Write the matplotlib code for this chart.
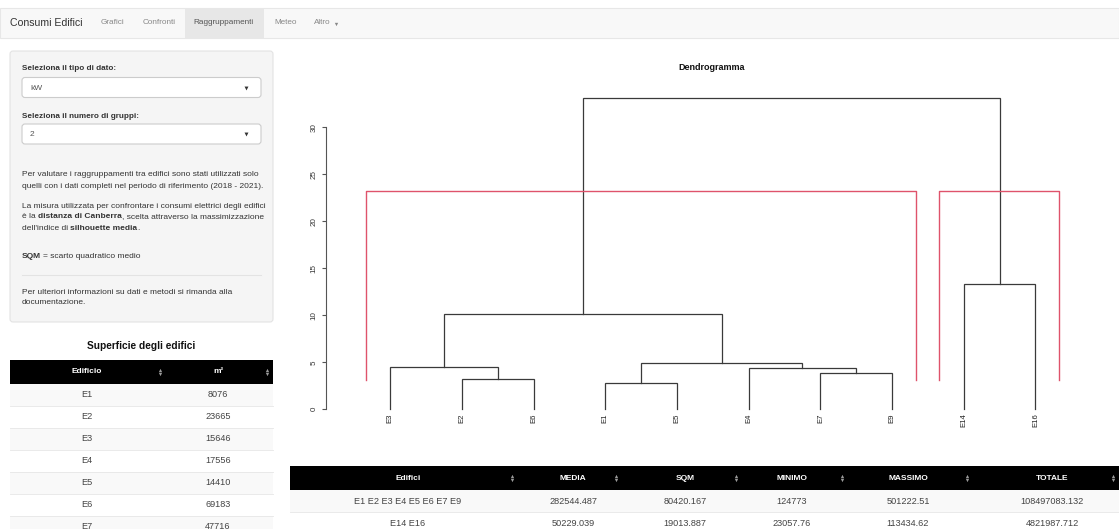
# Dashboard "Consumi Edifici" - tab Raggruppamenti, dendrogramma + tabelle
import numpy as np
import matplotlib.pyplot as plt
from matplotlib.patches import Rectangle, FancyBboxPatch

plt.rcParams['font.family'] = ['Liberation Sans', 'DejaVu Sans']

# ---- data ----
nav_items = ["Grafici", "Confronti", "Raggruppamenti", "Meteo", "Altro"]
leaves = ["E3", "E2", "E6", "E1", "E5", "E4", "E7", "E9", "E14", "E16"]
# merge table, hclust style: leaf names or index of an earlier merge
merges = [("E2", "E6"), ("E1", "E5"), ("E7", "E9"), ("E4", 2), ("E3", 0),
          (1, 3), (4, 5), ("E14", "E16"), (6, 7)]
heights = [3.22, 2.83, 3.86, 4.36, 4.53, 4.93, 10.17, 13.3, 33.15]
groups = [["E3", "E2", "E6", "E1", "E5", "E4", "E7", "E9"], ["E14", "E16"]]
rect_top = 23.2
rect_bottom = 3.1

area_edifici = ["E1", "E2", "E3", "E4", "E5", "E6", "E7"]
area_m2 = [8076, 23665, 15646, 17556, 14410, 69183, 47716]

stat_cols = ["Edifici", "MEDIA", "SQM", "MINIMO", "MASSIMO", "TOTALE"]
stat_groups = ["E1 E2 E3 E4 E5 E6 E7 E9", "E14 E16"]
media = ["282544.487", "50229.039"]
sqm = ["80420.167", "19013.887"]
minimo = ["124773", "23057.76"]
massimo = ["501222.51", "113434.62"]
totale = ["108497083.132", "4821987.712"]

# ---- figure ----
fig = plt.figure(figsize=(11.19, 5.29), dpi=100)
ui = fig.add_axes([0, 0, 1, 1])
ui.set_xlim(0, 1119)
ui.set_ylim(529, 0)
ui.axis('off')
r = fig.canvas.get_renderer()
TXT = '#333333'


def text_w(s, size, weight):
    t = ui.text(0, 0, s, fontsize=size, fontweight=weight)
    w = t.get_window_extent(renderer=r).width
    t.remove()
    return w


def runs(x, y, parts, size):
    # mixed normal / bold text on one line
    for txt, bold in parts:
        wt = 'bold' if bold else 'normal'
        sp = text_w("a a", size, wt) - text_w("aa", size, wt)
        if txt.startswith(" "):
            x += sp
        core = txt.strip()
        t = ui.text(x, y, core, fontsize=size, color=TXT, va='center', ha='left', fontweight=wt)
        x += t.get_window_extent(renderer=r).width
        if txt.endswith(" "):
            x += sp


def sort_icon(x, y):
    ui.plot([x], [y - 2], marker='^', ms=2.4, color='#9a9a9a', mew=0)
    ui.plot([x], [y + 2], marker='v', ms=2.4, color='#9a9a9a', mew=0)


# navbar
ui.add_patch(Rectangle((0, 8), 1119, 30, fc='#f8f8f8', ec='#e7e7e7', lw=0.8))
ui.add_patch(Rectangle((185, 8.5), 79, 29, fc='#e7e7e7', ec='none'))
ui.text(10, 23, "Consumi Edifici", fontsize=7.6, color='#333', va='center')
nav_x = [101, 143, 193, 274, 314]
for name, x in zip(nav_items, nav_x):
    ui.text(x, 23, name, fontsize=5.9, va='center',
            color='#555' if name == "Raggruppamenti" else '#888')
ui.plot([336], [23.5], marker='v', ms=2.4, color='#888', mew=0)

# sidebar
ui.add_patch(FancyBboxPatch((10, 51), 263, 271, boxstyle='round,pad=0,rounding_size=3',
                            fc='#f5f5f5', ec='#e3e3e3', lw=0.8))
lab_fs = 5.9
ui.text(22, 69, "Seleziona il tipo di dato:", fontsize=lab_fs, fontweight='bold', color=TXT, va='center')
ui.add_patch(FancyBboxPatch((22, 77.5), 239, 20, boxstyle='round,pad=0,rounding_size=3',
                            fc='white', ec='#cccccc', lw=0.8))
ui.text(30, 88, "kW", fontsize=6.0, color='#555', va='center')
ui.plot([246], [88], marker='v', ms=2.8, color='#333', mew=0)
ui.text(22, 116, "Seleziona il numero di gruppi:", fontsize=lab_fs, fontweight='bold', color=TXT, va='center')
ui.add_patch(FancyBboxPatch((22, 124), 239, 20, boxstyle='round,pad=0,rounding_size=3',
                            fc='white', ec='#cccccc', lw=0.8))
ui.text(30, 134, "2", fontsize=6.0, color='#555', va='center')
ui.plot([246], [134], marker='v', ms=2.8, color='#333', mew=0)

fs = 6.0
runs(22, 175, [("Per valutare i raggruppamenti tra edifici sono stati utilizzati solo", False)], fs)
runs(22, 186, [("quelli con i dati completi nel periodo di riferimento (2018 - 2021).", False)], fs)
runs(22, 206, [("La misura utilizzata per confrontare i consumi elettrici degli edifici", False)], fs)
runs(22, 217, [("è la ", False), ("distanza di Canberra", True),
               (", scelta attraverso la massimizzazione", False)], fs)
runs(22, 228, [("dell'indice di ", False), ("silhouette media", True), (".", False)], fs)
runs(22, 257, [("SQM", True), (" = scarto quadratico medio", False)], fs)
ui.plot([22, 261], [275, 275], color='#e3e3e3', lw=0.8)
runs(22, 292, [("Per ulteriori informazioni su dati e metodi si rimanda alla", False)], fs)
runs(22, 303, [("documentazione.", False)], fs)

# tabella superfici
cell_fs = 6.6
head_fs = 6.0
ui.text(141, 346, "Superficie degli edifici", fontsize=7.3, fontweight='bold',
        color='#111', ha='center', va='center')
ui.add_patch(Rectangle((10, 359.5), 263, 24, fc='black', ec='none'))
ui.text(87, 371.5, "Edificio", fontsize=head_fs, fontweight='bold', color='white', ha='center', va='center')
ui.text(218, 371.5, "m²", fontsize=head_fs, fontweight='bold', color='white', ha='center', va='center')
sort_icon(160, 371.5)
sort_icon(266.5, 371.5)
row_h = 22
for i, (ed, val) in enumerate(zip(area_edifici, area_m2)):
    y0 = 383.5 + i * row_h
    if i % 2 == 0:
        ui.add_patch(Rectangle((10, y0), 263, row_h, fc='#f9f9f9', ec='none'))
    ui.plot([10, 273], [y0 + row_h, y0 + row_h], color='#e6e6e6', lw=0.6)
    ui.text(87, y0 + row_h / 2, ed, fontsize=cell_fs, color='#444', ha='center', va='center')
    ui.text(218, y0 + row_h / 2, str(val), fontsize=cell_fs, color='#444', ha='center', va='center')

# tabella statistiche gruppi
ui.add_patch(Rectangle((290, 466), 829, 24, fc='black', ec='none'))
col_cx = [408, 573, 685, 792, 908, 1052]
icon_x = [512, 616, 736, 842, 967, 1113]
for name, cx, ix in zip(stat_cols, col_cx, icon_x):
    ui.text(cx, 478, name, fontsize=head_fs, fontweight='bold', color='white', ha='center', va='center')
    sort_icon(ix, 478)
table_cols = [stat_groups, media, sqm, minimo, massimo, totale]
for j in range(len(stat_groups)):
    y0 = 490 + j * row_h
    if j % 2 == 0:
        ui.add_patch(Rectangle((290, y0), 829, row_h, fc='#f9f9f9', ec='none'))
    ui.plot([290, 1119], [y0 + row_h, y0 + row_h], color='#e6e6e6', lw=0.6)
    for col, cx in zip(table_cols, col_cx):
        ui.text(cx, y0 + row_h / 2 + 1, col[j], fontsize=cell_fs, color='#444', ha='center', va='center')

# ---- dendrogramma ----
ax = fig.add_axes([326 / 1119, (529 - 440) / 529, (1100 - 326) / 1119, 380 / 529])
ax.set_facecolor('none')
ax.set_xlim(0.103, 10.901)
ax.set_ylim(-3.266, 37.16)

pos = {name: i + 1 for i, name in enumerate(leaves)}
mx, mh = [], []


def node(c):
    if isinstance(c, str):
        return pos[c], 0.0
    return mx[c], mh[c]


for (a, b), h in zip(merges, heights):
    xa, ha = node(a)
    xb, hb = node(b)
    ax.plot([xa, xa, xb, xb], [ha, h, h, hb], color='#3a3a3a', lw=0.9, solid_joinstyle='miter')
    mx.append((xa + xb) / 2)
    mh.append(h)

for name in leaves:
    ax.text(pos[name], -0.45, name, rotation=90, fontsize=5.6, color='#222',
            ha='center', va='top')

for g in groups:
    xl = pos[g[0]] - 0.34
    xr = pos[g[-1]] + 0.33
    ax.plot([xl, xl, xr, xr], [rect_bottom, rect_top, rect_top, rect_bottom],
            color='#DF536B', lw=1.0)

ui.text(712, 68, "Dendrogramma", fontsize=6.5, fontweight='bold', color='#111',
        ha='center', va='center')

for s in ['top', 'right', 'bottom']:
    ax.spines[s].set_visible(False)
ax.spines['left'].set_bounds(0, 30)
ax.spines['left'].set_color('#555')
ax.spines['left'].set_linewidth(0.8)
ax.set_xticks([])
ax.set_yticks([0, 5, 10, 15, 20, 25, 30])
ax.tick_params(axis='y', direction='out', length=3, width=0.8, color='#555',
               labelsize=5.8, labelcolor='#333', pad=3)
for lab in ax.get_yticklabels():
    lab.set_rotation(90)
    lab.set_va('center')

plt.savefig("out.png", dpi=100)
